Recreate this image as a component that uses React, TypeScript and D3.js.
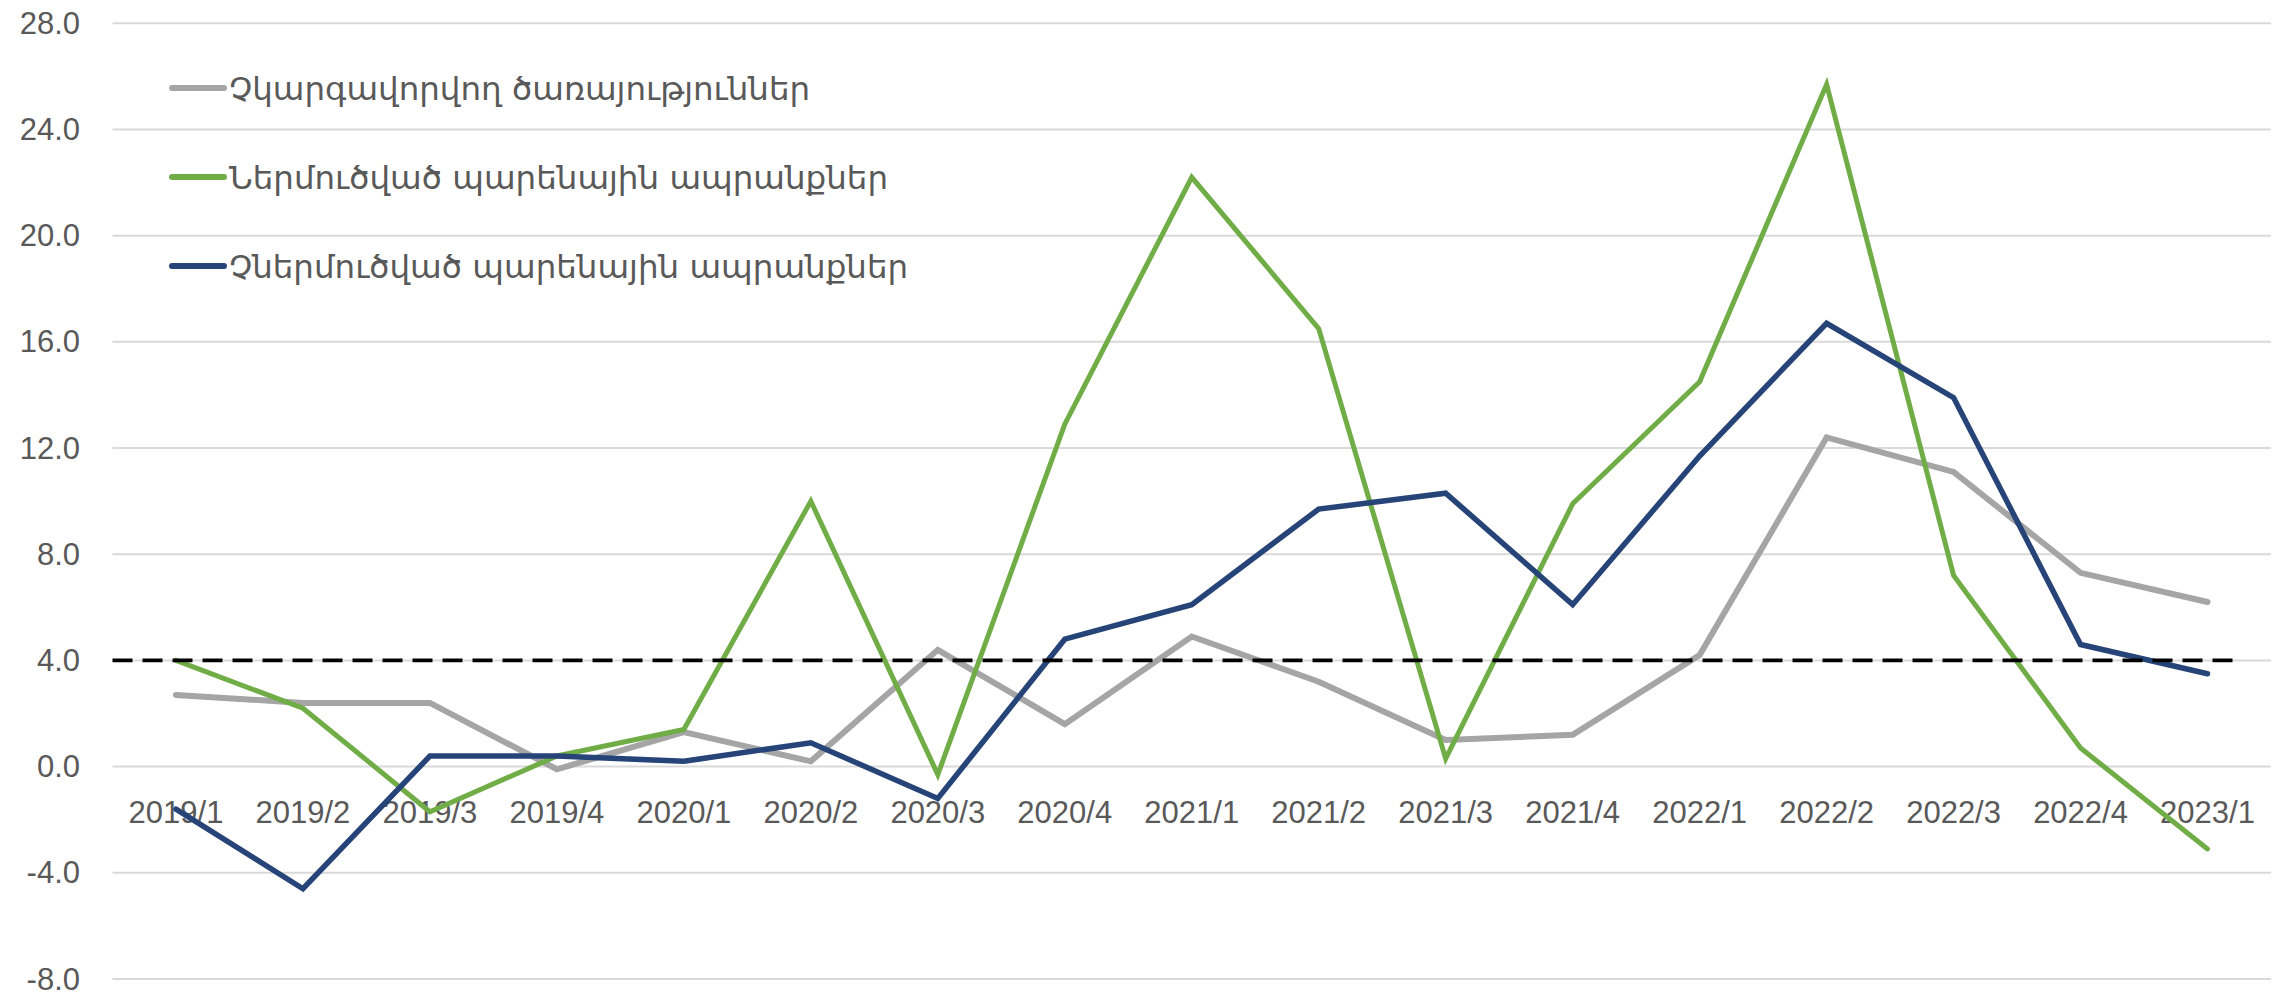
import React, { useEffect } from 'react';
import * as d3 from 'd3';

// quarters on the x axis
const quarters = ['2019/1', '2019/2', '2019/3', '2019/4', '2020/1', '2020/2', '2020/3', '2020/4',
  '2021/1', '2021/2', '2021/3', '2021/4', '2022/1', '2022/2', '2022/3', '2022/4', '2023/1'];

const services = [2.7, 2.4, 2.4, -0.1, 1.3, 0.2, 4.4, 1.6, 4.9, 3.2, 1.0, 1.2, 4.2, 12.4, 11.1, 7.3, 6.2];
const importedFood = [4.0, 2.2, -1.7, 0.4, 1.4, 10.0, -0.3, 12.9, 22.2, 16.5, 0.3, 9.9, 14.5, 25.7, 7.2, 0.7, -3.1];
const localFood = [-1.6, -4.6, 0.4, 0.4, 0.2, 0.9, -1.2, 4.8, 6.1, 9.7, 10.3, 6.1, 11.7, 16.7, 13.9, 4.6, 3.5];

const yTicks = [-8, -4, 0, 4, 8, 12, 16, 20, 24, 28];
const target = 4.0;

const seriesNames = ['Չկարգավորվող ծառայություններ', 'Ներմուծված պարենային ապրանքներ', 'Չներմուծված պարենային ապրանքներ'];

export default function App() {
  useEffect(() => {
    document.body.style.margin = '0';
  }, []);

  const width = 2287;
  const height = 993;

  const x = d3.scaleBand().domain(quarters).range([112.5, 2271]);
  const y = d3.scaleLinear().domain([-8, 28]).range([979, 23.3]);
  const cx = (q: string) => (x(q) as number) + x.bandwidth() / 2;

  const line = d3.line<number>()
    .x((_, i) => cx(quarters[i]))
    .y(d => y(d));

  const series = [
    { name: seriesNames[0], values: services, color: '#A5A5A5', w: 6 },
    { name: seriesNames[1], values: importedFood, color: '#70AD47', w: 5 },
    { name: seriesNames[2], values: localFood, color: '#264478', w: 5.5 },
  ];

  const tickFont = '"Liberation Sans", Arial, sans-serif';
  const legendY = [88, 177, 266];

  return (
    <svg width={width} height={height} style={{ display: 'block', background: '#fff' }}>
      {/* grid */}
      {yTicks.map(t => (
        <g key={t}>
          <line x1={x.range()[0]} x2={x.range()[1]} y1={y(t)} y2={y(t)} stroke="#D9D9D9" strokeWidth={2} />
          <text x={80} y={y(t)} dy="0.34em" textAnchor="end" fontSize={31} fill="#595959" fontFamily={tickFont}>
            {t.toFixed(1)}
          </text>
        </g>
      ))}

      {/* category labels */}
      {quarters.map(q => (
        <text key={q} x={cx(q)} y={823} textAnchor="middle" fontSize={31} fill="#595959" fontFamily={tickFont}>
          {q}
        </text>
      ))}

      {series.map(s => (
        <path key={s.name} d={line(s.values) || ''} fill="none" stroke={s.color}
          strokeWidth={s.w} strokeLinejoin="miter" strokeLinecap="round" />
      ))}

      <line x1={x.range()[0]} x2={x.range()[1] - 36} y1={y(target)} y2={y(target)}
        stroke="#000" strokeWidth={3.8} strokeDasharray="20 10" />

      {/* legend */}
      {series.map((s, i) => (
        <g key={'lg' + i}>
          <line x1={172} x2={224} y1={legendY[i]} y2={legendY[i]} stroke={s.color} strokeWidth={6} strokeLinecap="round" />
          <text x={229} y={legendY[i] + 12} fontSize={32.5} fill="#595959" fontFamily='"DejaVu Sans", sans-serif'>
            {s.name}
          </text>
        </g>
      ))}
    </svg>
  );
}
